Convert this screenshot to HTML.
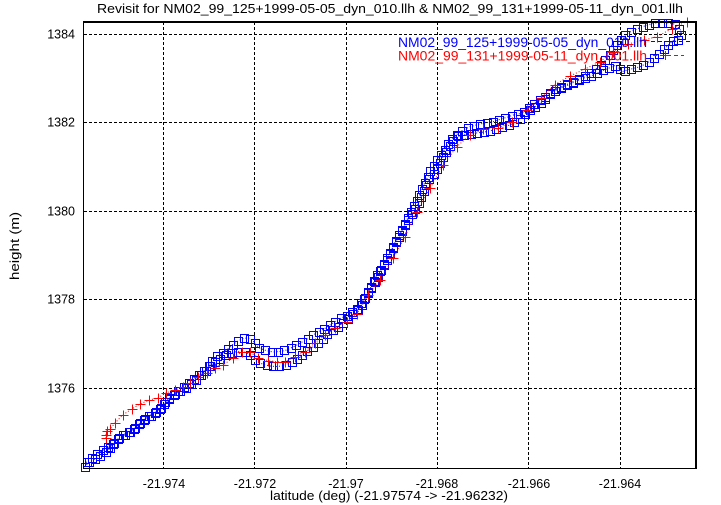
<!DOCTYPE html>
<html><head><meta charset="utf-8">
<style>
html,body{margin:0;padding:0;background:#fff;}
svg{display:block;}
text{font-family:"Liberation Sans",Arial,Helvetica,sans-serif;fill:#000;}
</style></head>
<body>
<svg id="s" xmlns="http://www.w3.org/2000/svg" width="721" height="505" viewBox="0 0 721 505">
<rect x="0" y="0" width="721" height="505" fill="#fff"/>
<g stroke="#000" stroke-width="1" stroke-dasharray="3,2" fill="none">
<line x1="163.5" y1="22" x2="163.5" y2="468"/>
<line x1="254.5" y1="22" x2="254.5" y2="468"/>
<line x1="346.5" y1="22" x2="346.5" y2="468"/>
<line x1="437.5" y1="22" x2="437.5" y2="468"/>
<line x1="528.5" y1="22" x2="528.5" y2="468"/>
<line x1="620.5" y1="22" x2="620.5" y2="468"/>
<line x1="84" y1="34.5" x2="695" y2="34.5"/>
<line x1="84" y1="122.5" x2="695" y2="122.5"/>
<line x1="84" y1="211.5" x2="695" y2="211.5"/>
<line x1="84" y1="299.5" x2="695" y2="299.5"/>
<line x1="84" y1="388.5" x2="695" y2="388.5"/>
</g>
<g font-size="12.5">
<text x="75" y="38.5" text-anchor="end">1384</text>
<text x="75" y="126.5" text-anchor="end">1382</text>
<text x="75" y="215.5" text-anchor="end">1380</text>
<text x="75" y="303.5" text-anchor="end">1378</text>
<text x="75" y="392.5" text-anchor="end">1376</text>
<text x="164" y="488" text-anchor="middle">-21.974</text>
<text x="255" y="488" text-anchor="middle">-21.972</text>
<text x="346" y="488" text-anchor="middle">-21.97</text>
<text x="437" y="488" text-anchor="middle">-21.968</text>
<text x="529" y="488" text-anchor="middle">-21.966</text>
<text x="620" y="488" text-anchor="middle">-21.964</text>
</g>
<text x="97" y="13" font-size="12.5" textLength="586" lengthAdjust="spacingAndGlyphs">Revisit for NM02_99_125+1999-05-05_dyn_010.llh &amp; NM02_99_131+1999-05-11_dyn_001.llh</text>
<text x="270" y="500" font-size="13" textLength="238" lengthAdjust="spacingAndGlyphs">latitude (deg) (-21.97574 -&gt; -21.96232)</text>
<text transform="translate(19,246) rotate(-90)" text-anchor="middle" font-size="13" textLength="68" lengthAdjust="spacingAndGlyphs">height (m)</text>
<g id="data"></g>
<text x="398" y="47" font-size="13.5" textLength="249" lengthAdjust="spacingAndGlyphs" style="fill:#0000ff">NM02_99_125+1999-05-05_dyn_010.llh</text>
<text x="398" y="60.5" font-size="13.5" textLength="249" lengthAdjust="spacingAndGlyphs" style="fill:#ff0000">NM02_99_131+1999-05-11_dyn_001.llh</text>
<line x1="651" y1="41.5" x2="690" y2="41.5" stroke="#0000ff" stroke-dasharray="4,3"/>
<line x1="653" y1="55.5" x2="684" y2="55.5" stroke="#ff0000" stroke-dasharray="4,3"/>
<path d="M661,55.5 H670 M665.5,51 V60" stroke="#ff0000" fill="none"/>
<g fill="none">
<line x1="83.5" y1="21" x2="83.5" y2="469" stroke="#000" stroke-width="1"/>
<line x1="83" y1="468.5" x2="697" y2="468.5" stroke="#000" stroke-width="1"/>
<rect x="83" y="21" width="614" height="2" fill="#000" stroke="none"/>
<rect x="695" y="21" width="2" height="448" fill="#000" stroke="none"/>
</g>
</svg>
<script>
(function(){
var NS="http://www.w3.org/2000/svg";
var g=document.getElementById("data");
function el(n,a){var e=document.createElementNS(NS,n);for(var k in a)e.setAttribute(k,a[k]);return e;}
var blue=[[84.5,467],[88,463],[93,460],[97,458],[101,455],[106.7,452],[112,446],[116,441],[121,437],[126,434],[131,431],[136,427],[141,422],[146,418],[151.7,415],[156,412],[160,408.3],[164,403],[168,399],[173,395],[178,392],[183,389],[188,387],[193,383],[197,379],[201,375],[205,371.7],[209,367],[213.3,363.3],[218,360],[223,357],[228,354],[234,352],[240,351.5],[246,352.5],[250,355],[254,359],[258,362.5],[264,364.5],[270,366],[276,366.5],[282,366],[288,364],[294,361],[300,356.7],[306,352],[313.3,346.7],[320,341],[326.7,335],[331,331],[336.7,328.3],[341,324],[346.7,320],[352,315],[357,311],[361.7,305],[364,300],[366.7,295],[370,290],[373.3,285],[377,278],[380,271.7],[383,266],[386.7,260],[390,253],[393.3,246.7],[397,241],[400,235],[403,228],[406.7,221.7],[410,217],[413.3,211.7],[417,206],[420,200],[422,194],[424,190],[427,184],[430,178],[434,174],[437,168],[440,162],[443,157],[447,150],[453.3,141],[458,136.5],[463.3,135],[468,134],[473.3,133.3],[480,132.5],[486.7,131.7],[493,130],[500,128.3],[505,126.5],[510,125],[515,122],[520,118.3],[525,114],[530,110],[535,107],[540,104],[546.7,97],[553,92],[560,88.3],[568.3,85],[575,81.7],[583.3,78.3],[593.3,75],[600,71.7],[608.3,68.3],[616.7,65],[621.7,71.7],[630,69.3],[640,66.7],[646.7,63.3],[653.3,58.3],[660,53.3],[665,48.3],[670,43.3],[674,40],[677,42],[679,38],[681,35],[681,31],[679,28],[677,26],[674,24],[669,23],[663,22.5],[656,23],[649,24.5],[643,26.5],[637,29],[631,31.5],[626,34],[622,38],[618,43],[614,49],[610,55],[606,59],[603.3,64],[597,68],[590,73.3],[584,77],[578,79.5],[570,83],[563,86],[556,89],[550,93],[544,97],[538,101.7],[530,106.7],[525,111],[521.7,113.3],[513.3,115],[508,117],[503.3,118.3],[498,120],[493.3,121.7],[488,122.5],[483.3,123.3],[476,125],[470,126.7],[465,129],[460,131.7],[454,137],[448.3,143.3],[445,149],[441.7,153.3],[438,159],[435,163.3],[431,170],[428.3,176],[425,182],[421.7,190],[418,198],[414,206],[411,212],[406.7,220],[403,227],[400,234],[396,240],[393.3,246.7],[390,253],[386.7,259],[383,265],[380,271],[376,277],[373,284],[369,290],[366.7,295],[363,300],[360,306],[356,310],[351,313.3],[346,316],[341,318],[336,321],[330,325],[324,329],[318,332],[313.3,335],[307,339],[300,343.3],[293,347],[286.7,350],[280,351.5],[273,352],[266,350.5],[260,348.3],[256,345],[253,341],[250,338.5],[246.7,338],[243,338.5],[238,341],[232,345],[226.7,350],[221,354],[216.7,356.7],[212,361],[208.3,366.7],[204,371],[200,375],[196,378],[191.7,381.7],[188,384],[183.3,387.3],[178,391],[173.3,395],[169,399],[165,403.3],[162,407],[158.3,410],[154,413],[150,415],[145,419],[140,423.3],[135,428],[130,431.7],[125,434],[120,436.7],[115,442],[110,446.7],[105,449],[100,451.7],[94,456],[88.3,460],[85,464]];
var red=[[106,438],[106,434.5],[107,431],[110,429],[115,423],[122.7,415],[131.7,409],[140,404],[149.3,400],[158.3,397.7],[166,393],[175,390],[183.3,387],[190,383],[198.3,377],[206.7,373],[215,368],[223.3,365],[232.7,358],[241.7,352],[250,352],[258.3,358],[268.3,360.7],[276.7,361.7],[285,361.7],[295,356.7],[305,351.7],[315,342.7],[325,335],[335,328],[346.7,321.7],[356.7,314],[368.3,295],[380,280],[393.3,258.3],[405,236.7],[416.7,211.7],[430,188.3],[443.3,165],[456.7,146.7],[470,135],[483.3,129],[498,128.3],[511.7,121.7],[526.5,109.5],[541,98.3],[555,84.5],[570,76],[585,69],[600,61.7],[613.3,51.7],[628,44],[644,40],[657,36.7],[672,28.5],[686.5,21.5]];
function pts(a){return a.map(function(p){return p[0]+","+p[1];}).join(" ");}
function resample(a,step){
  var out=[a[0]],acc=0;
  for(var i=1;i<a.length;i++){
    var x0=a[i-1][0],y0=a[i-1][1],x1=a[i][0],y1=a[i][1];
    var d=Math.hypot(x1-x0,y1-y0),t=step-acc;
    while(t<=d){out.push([x0+(x1-x0)*t/d,y0+(y1-y0)*t/d]);t+=step;}
    acc=d-(t-step);
  }
  return out;
}
g.appendChild(el("polyline",{points:pts(blue),fill:"none",stroke:"#0000ff","stroke-width":"1","stroke-dasharray":"1,2"}));
var bs=resample(blue,6.5);
var d="";
bs.forEach(function(p){var cx=Math.round(p[0]),cy=Math.round(p[1]);d+="M"+(cx-3.5)+","+(cy-3.5)+"h8v8h-8z";});
g.appendChild(el("path",{d:d,fill:"none",stroke:"#0000ff","stroke-width":"1"}));
g.appendChild(el("polyline",{points:pts(red),fill:"none",stroke:"#ff0000","stroke-width":"1","stroke-dasharray":"1,2"}));
var rd="";
red.forEach(function(p){var cx=Math.round(p[0]),cy=Math.round(p[1]);rd+="M"+(cx-4.5)+","+(cy+0.5)+"h10M"+(cx+0.5)+","+(cy-4.5)+"v10";});
g.appendChild(el("path",{d:rd,fill:"none",stroke:"#ff0000","stroke-width":"1"}));
})();
</script>
</body></html>
